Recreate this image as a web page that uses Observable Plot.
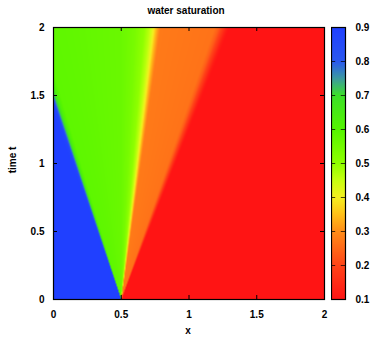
<!DOCTYPE html>
<html><head><meta charset="utf-8">
<script src="https://cdn.jsdelivr.net/npm/d3@7"></script>
<script src="https://cdn.jsdelivr.net/npm/@observablehq/plot@0.6"></script>
<style>
body{margin:0;background:#fff;}
#c{position:relative;width:381px;height:344px;font-family:"Liberation Sans",Arial,sans-serif;font-weight:bold;font-size:10px;color:#000;}
#c svg{position:absolute;top:0;}
.lbl{position:absolute;white-space:nowrap;line-height:1;}
</style></head><body><div id="c"></div>
<script>
// ---- chart data ----
const title = "water saturation";
const xLabel = "x";
const yLabel = "time t";
const xTicks = [0, 0.5, 1, 1.5, 2];
const yTicks = [0, 0.5, 1, 1.5, 2];
const cbTicks = [0.1, 0.2, 0.3, 0.4, 0.5, 0.6, 0.7, 0.8, 0.9];
const x0 = 0.5; // position of the initial discontinuity
// self-similar saturation profile s(xi), xi = (x - x0) / t
const xi  = [-0.37, -0.345, -0.33, -0.315, -0.30, -0.2, 0.0, 0.05, 0.085, 0.105, 0.118, 0.13, 0.145, 0.345, 0.36, 0.375, 0.39, 0.40];
const sat = [0.9,   0.88,   0.72,  0.62,   0.585, 0.58, 0.565, 0.54, 0.5, 0.46, 0.41, 0.34, 0.275, 0.265, 0.235, 0.18, 0.12, 0.1];
// colour palette stops
const palStops  = [0.1, 0.2, 0.3, 0.35, 0.4, 0.45, 0.5, 0.6, 0.7, 0.75, 0.8, 0.9];
const palColors = ["#ff1414", "#ff4418", "#ff8c18", "#ffc018", "#f5f020", "#c8ff10", "#90ff00", "#55f500", "#3ce028", "#3c9aa0", "#2a58f0", "#2040ff"];

// ---- drawing ----
const profile = d3.scaleLinear().domain(xi).range(sat).clamp(true);
const satAt = (x, t) => profile(t > 0 ? (x - x0) / t : (x < x0 ? -1e9 : 1e9));
const color = {type: "linear", domain: palStops, range: palColors, clamp: true};
const tl = 4 / 271 * 2; // inward tick length in data units
const inner = xTicks.slice(1, -1);
const innerY = yTicks.slice(1, -1);

const main = Plot.plot({
  width: 330, height: 344,
  marginLeft: 53, marginRight: 6, marginTop: 27, marginBottom: 45,
  style: {fontFamily: "'Liberation Sans', Arial, sans-serif", fontSize: "10px", fontWeight: "bold", background: "none"},
  x: {domain: [0, 2], ticks: xTicks, tickSize: 0, tickPadding: 11, tickFormat: d => String(d), label: null},
  y: {domain: [0, 2], ticks: yTicks, tickSize: 0, tickPadding: 9, tickFormat: d => String(d), label: null},
  color,
  marks: [
    Plot.raster({fill: satAt, x1: 0, x2: 2, y1: 0, y2: 2, pixelSize: 1}),
    Plot.ruleX(inner, {x: d => d, y1: 0, y2: tl, stroke: "#000"}),
    Plot.ruleX(inner, {x: d => d, y1: 2 - tl, y2: 2, stroke: "#000"}),
    Plot.ruleY(innerY, {y: d => d, x1: 0, x2: tl, stroke: "#000"}),
    Plot.ruleY(innerY, {y: d => d, x1: 2 - tl, x2: 2, stroke: "#000"}),
    Plot.frame({stroke: "#000", strokeWidth: 1.2})
  ]
});

const cbInner = cbTicks.slice(1, -1);
const cb = Plot.plot({
  width: 50, height: 344,
  marginLeft: 0, marginRight: 36, marginTop: 27, marginBottom: 45,
  style: {fontFamily: "'Liberation Sans', Arial, sans-serif", fontSize: "10px", fontWeight: "bold", background: "none"},
  x: {domain: [0, 1], axis: null},
  y: {domain: [0.1, 0.9], ticks: cbTicks, axis: "right", tickSize: 0, tickPadding: 10, tickFormat: d => d.toFixed(1), label: null},
  color,
  marks: [
    Plot.raster({fill: (x, y) => y, x1: 0, x2: 1, y1: 0.1, y2: 0.9, pixelSize: 1}),
    Plot.ruleY(cbInner, {y: d => d, x1: 0, x2: 0.3, stroke: "#000", strokeOpacity: 0.7}),
    Plot.ruleY(cbInner, {y: d => d, x1: 0.7, x2: 1, stroke: "#000", strokeOpacity: 0.7}),
    Plot.frame({stroke: "#000", strokeWidth: 1.2})
  ]
});

const c = document.getElementById("c");
main.style.left = "0px";
cb.style.left = "331px";
c.appendChild(main);
c.appendChild(cb);

function addLabel(text, css) {
  const d = document.createElement("div");
  d.className = "lbl";
  d.textContent = text;
  Object.assign(d.style, css);
  c.appendChild(d);
}
addLabel(title, {left: "186px", top: "6px", transform: "translateX(-50%)"});
addLabel(xLabel, {left: "188px", top: "326px", transform: "translateX(-50%)"});
addLabel(yLabel, {left: "13px", top: "160px", transform: "translate(-50%,-50%) rotate(-90deg)"});
</script></body></html>
